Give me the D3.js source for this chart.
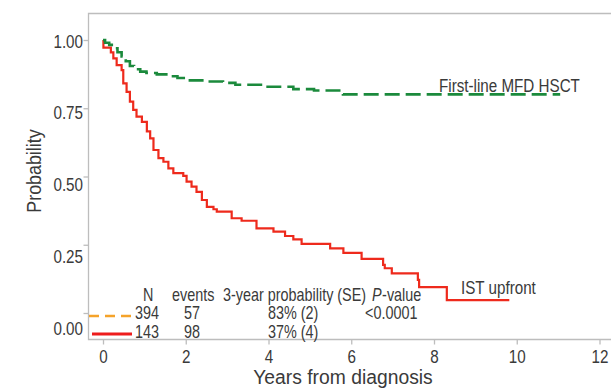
<!DOCTYPE html>
<html>
<head>
<meta charset="utf-8">
<script src="https://cdn.jsdelivr.net/npm/d3@7"></script>
<style>
	body { margin: 0; background: #fff; }
	svg text { font-family: "Liberation Sans", Arial, sans-serif; fill: #3a3a3a; }
</style>
</head>
<body>
<svg id="km" width="611" height="389"></svg>
<script>
// tick values
var xTicks = [0, 2, 4, 6, 8, 10, 12];
var yTicks = [0, 0.25, 0.5, 0.75, 1];

// first-line MFD HSCT (Kaplan-Meier)
var hsctTimes = [0, 0.05, 0.15, 0.25, 0.35, 0.45, 0.55, 0.65, 0.75, 0.9, 1.05, 1.3, 1.6, 1.8, 2.1, 2.5, 2.9, 3.2, 3.9, 4.6, 5.1, 5.8, 11.05];
var hsctSurv = [1, 0.99, 0.982, 0.97, 0.955, 0.94, 0.922, 0.905, 0.893, 0.884, 0.879, 0.874, 0.867, 0.861, 0.852, 0.848, 0.843, 0.836, 0.829, 0.82, 0.815, 0.801, 0.801];

// IST upfront
var istTimes = [0, 0.01, 0.19, 0.25, 0.33, 0.45, 0.49, 0.57, 0.65, 0.73, 0.81, 0.94, 1.06, 1.14, 1.22, 1.34, 1.46, 1.58, 1.7, 1.94, 2.02, 2.14, 2.26, 2.39, 2.51, 2.67, 2.75, 3.11, 3.35, 3.71, 4.12, 4.4, 4.6, 4.8, 5.49, 5.81, 6.25, 6.77, 6.81, 6.98, 7.61, 7.64, 8.31, 9.82];
var istSurv = [1, 0.972, 0.955, 0.933, 0.908, 0.89, 0.841, 0.81, 0.774, 0.744, 0.719, 0.7, 0.665, 0.64, 0.597, 0.567, 0.554, 0.53, 0.512, 0.502, 0.481, 0.463, 0.444, 0.414, 0.389, 0.38, 0.371, 0.347, 0.338, 0.31, 0.298, 0.282, 0.27, 0.253, 0.237, 0.22, 0.198, 0.176, 0.164, 0.145, 0.121, 0.095, 0.047, 0.047];

// legend table
var tableHeader = ['N', 'events', '3-year probability (SE)'];
var tableN = ['394', '143'];
var tableEvents = ['57', '98'];
var tableProb = ['83% (2)', '37% (4)'];
var tablePval = ['<0.0001', ''];

var svg = d3.select('#km');

var x = d3.scaleLinear().domain([0, 12]).range([103, 599.5]);
var y = d3.scaleLinear().domain([0, 1]).range([313, 40]);
// tick labels in the picture sit slightly off their ticks
var yLabel = d3.scaleLinear().domain([0, 1]).range([328, 40.7]);

var axisColor = '#bdbdbd';

//narrow the glyphs to look like a condensed face (scale about the anchor point)
var squeeze = function(sel, k) {
	k = k || 0.8;
	sel.each(function(){
		var t = d3.select(this);
		var tx = +t.attr('x') || 0;
		var ty = +t.attr('y') || 0;
		var pre = t.attr('transform') || '';
		t.attr('x', 0).attr('y', 0)
			.attr('transform', pre + ' translate(' + tx + ',' + ty + ') scale(' + k + ',1)');
	});
};

//frame
svg.append('path')
	.attr('d', 'M611,13.5H88.5V339.5H611')
	.attr('fill', 'none')
	.attr('stroke', axisColor)
	.attr('stroke-width', 1.3);

//y axis ticks
var gy = svg.append('g')
	.attr('transform', 'translate(88.5,0)')
	.call(d3.axisLeft(y).tickValues(yTicks).tickSize(5).tickFormat(''));
gy.select('.domain').remove();
gy.selectAll('line').attr('stroke', axisColor).attr('stroke-width', 1.3);

svg.append('g').selectAll('text')
	.data(yTicks)
	.enter()
	.append('text')
	.attr('x', 83)
	.attr('y', function(d){return yLabel(d);})
	.attr('dy', '0.36em')
	.attr('text-anchor', 'end')
	.style('font-size', '19px')
	.text(d3.format('.2f'))
	.call(squeeze);

//x axis
var gx = svg.append('g')
	.attr('transform', 'translate(0,339.5)')
	.call(d3.axisBottom(x).tickValues(xTicks).tickSize(5).tickPadding(5));
gx.select('.domain').remove();
gx.selectAll('line').attr('stroke', axisColor).attr('stroke-width', 1.3);
gx.selectAll('text')
	.style('font-size', '19px')
	.attr('fill', '#3a3a3a')
	.call(squeeze);

svg.append('text')
	.attr('x', 343)
	.attr('y', 384)
	.attr('text-anchor', 'middle')
	.style('font-size', '21px')
	.text('Years from diagnosis')
	.call(squeeze, 0.92);

svg.append('text')
	.attr('transform', 'translate(41,171) rotate(-90)')
	.attr('text-anchor', 'middle')
	.style('font-size', '21px')
	.text('Probability')
	.call(squeeze, 0.85);

//curves
var line = d3.line()
	.x(function(d){return x(d[0]);})
	.y(function(d){return y(d[1]);})
	.curve(d3.curveStepAfter);

svg.append('path')
	.datum(d3.zip(istTimes, istSurv))
	.attr('d', line)
	.attr('fill', 'none')
	.attr('stroke', '#ee2a1c')
	.attr('stroke-width', 2.2);

svg.append('path')
	.datum(d3.zip(hsctTimes, hsctSurv))
	.attr('d', line)
	.attr('fill', 'none')
	.attr('stroke', '#1b8a3c')
	.attr('stroke-width', 2.6)
	.attr('stroke-dasharray', '15,6');

svg.append('text')
	.attr('x', 439)
	.attr('y', 85)
	.attr('dy', '0.36em')
	.style('font-size', '19px')
	.text('First-line MFD HSCT')
	.call(squeeze);

svg.append('text')
	.attr('x', 461)
	.attr('y', 287)
	.attr('dy', '0.36em')
	.style('font-size', '19px')
	.text('IST upfront')
	.call(squeeze);

//legend table
var headX = [143, 172, 223];
svg.append('g').selectAll('text')
	.data(tableHeader)
	.enter()
	.append('text')
	.attr('x', function(d, i){return headX[i];})
	.attr('y', 295)
	.attr('dy', '0.36em')
	.style('font-size', '18px')
	.text(function(d){return d;})
	.call(squeeze);

//P-value header: italic P, then the rest
var pText = svg.append('text')
	.attr('x', 372)
	.attr('y', 295)
	.attr('dy', '0.36em')
	.style('font-size', '18px')
	.style('font-style', 'italic')
	.text('P');
var pWidth = pText.node().getComputedTextLength() * 0.8;
pText.call(squeeze);
svg.append('text')
	.attr('x', 372 + pWidth + 0.5)
	.attr('y', 295)
	.attr('dy', '0.36em')
	.style('font-size', '18px')
	.text('-value')
	.call(squeeze);

var rowY = [313, 332];
var rows = svg.append('g').selectAll('g')
	.data(tableN)
	.enter()
	.append('g')
	.attr('transform', function(d, i){return 'translate(0,' + rowY[i] + ')';});

rows.append('line')
	.attr('x1', function(d, i){return i === 0 ? 89 : 92;})
	.attr('x2', 132)
	.attr('y1', function(d, i){return i === 0 ? 3 : 2;})
	.attr('y2', function(d, i){return i === 0 ? 3 : 2;})
	.attr('stroke', function(d, i){return i === 0 ? '#f5a32a' : '#ee1c1c';})
	.attr('stroke-width', function(d, i){return i === 0 ? 2.6 : 3;})
	.attr('stroke-dasharray', function(d, i){return i === 0 ? '10,6' : null;});

var cells = [tableN, tableEvents, tableProb, tablePval];
var cellX = [135, 184, 268, 365];
cells.forEach(function(col, c){
	rows.append('text')
		.attr('x', cellX[c])
		.attr('dy', '0.36em')
		.style('font-size', '18px')
		.text(function(d, i){return col[i];})
		.call(squeeze);
});
</script>
</body>
</html>
